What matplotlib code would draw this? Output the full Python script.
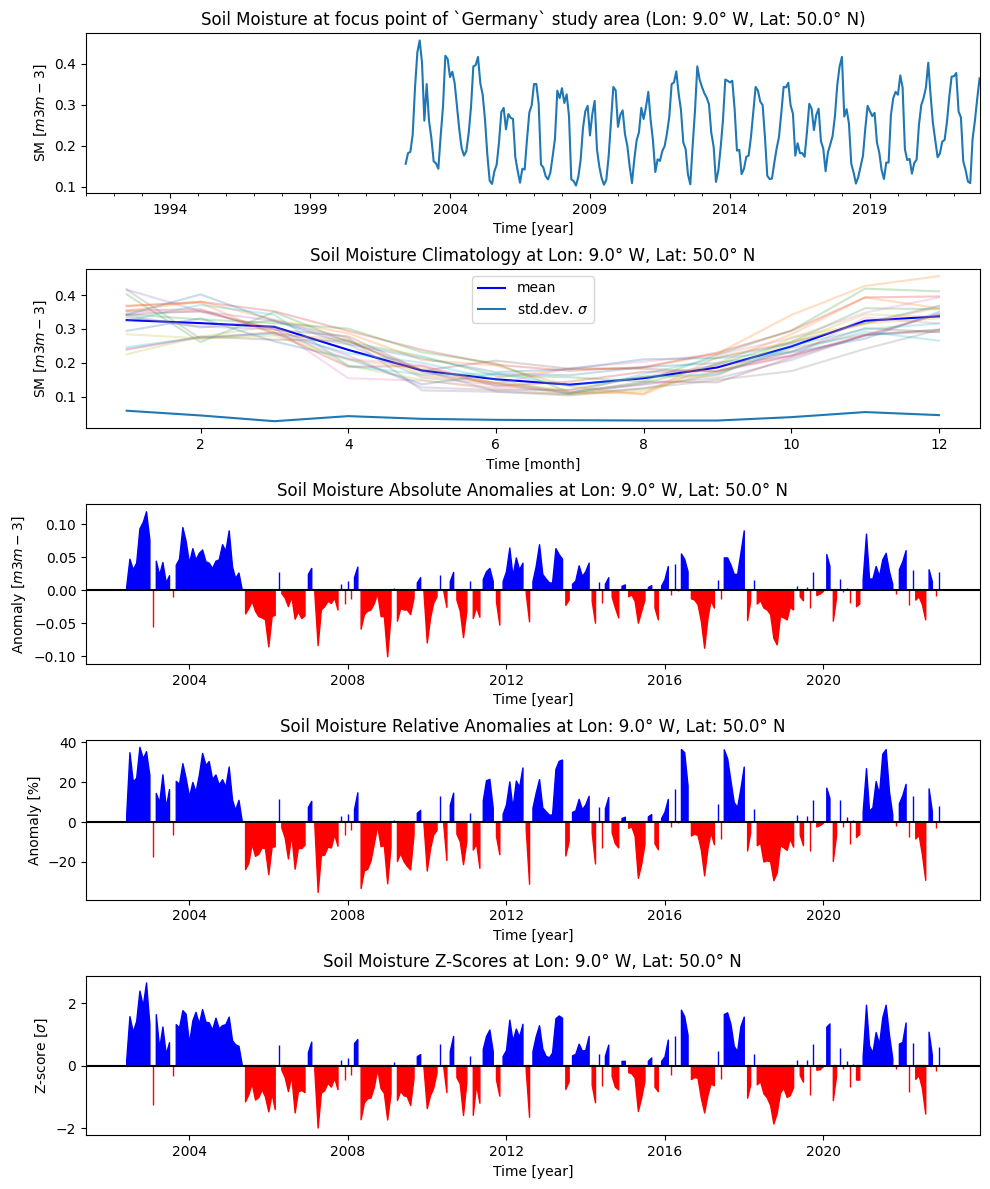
import numpy as np
import pandas as pd
import matplotlib.pyplot as plt

# monthly absolute soil moisture anomalies [m3/m3], 2002-06 ... 2022-12
abs_anomaly = np.array([
    0.005, 0.047, 0.031, 0.041, 0.093, 0.103, 0.119,                                # 2002 (Jun-Dec)
    0.076, -0.056, 0.044, 0.023, 0.042, 0.011, 0.022, -0.010, 0.038, 0.047, 0.095, 0.074,  # 2003
    0.041, 0.063, 0.046, 0.056, 0.061, 0.043, 0.041, 0.033, 0.044, 0.046, 0.069, 0.059,   # 2004
    0.090, 0.035, 0.018, 0.026, 0.001, -0.036, -0.028, -0.017, -0.032, -0.040, -0.042, -0.045,  # 2005
    -0.086, -0.040, -0.038, 0.027, -0.005, -0.012, -0.025, -0.010, -0.044, -0.033, -0.043, -0.039,  # 2006
    0.024, 0.033, -0.004, -0.084, -0.030, -0.025, -0.017, -0.020, -0.012, -0.030, 0.010, -0.021,  # 2007
    0.014, -0.013, 0.019, 0.035, -0.059, -0.037, -0.032, -0.030, -0.020, -0.005, -0.040, -0.040,  # 2008
    -0.101, -0.040, 0.003, -0.047, -0.028, -0.030, -0.030, -0.037, -0.012, 0.011, 0.019, -0.002,  # 2009
    -0.080, -0.042, -0.020, -0.010, 0.023, -0.001, -0.026, 0.013, 0.027, -0.015, -0.032, -0.072,  # 2010
    -0.032, 0.014, -0.043, -0.026, -0.041, 0.016, 0.028, 0.033, 0.013, -0.018, -0.053, 0.013,  # 2011
    0.028, 0.064, 0.021, 0.049, 0.031, 0.041, -0.005, -0.048, 0.013, 0.036, 0.069, 0.024,  # 2012
    0.017, 0.011, 0.011, 0.063, 0.054, 0.047, -0.023, -0.015, 0.009, 0.014, 0.037, 0.021,  # 2013
    0.028, 0.041, -0.017, -0.050, 0.013, -0.020, 0.009, 0.019, -0.010, -0.027, -0.042, 0.006,  # 2014
    0.008, -0.010, -0.007, -0.017, -0.050, -0.032, -0.015, 0.004, 0.007, -0.027, -0.045, 0.006,  # 2015
    0.016, 0.036, -0.008, 0.040, -0.001, 0.055, 0.047, 0.028, -0.013, -0.015, -0.022, -0.047,  # 2016
    -0.088, -0.042, -0.016, -0.027, 0.016, -0.013, 0.049, 0.049, 0.038, 0.024, 0.024, 0.056,  # 2017
    0.090, -0.046, -0.017, 0.016, -0.021, -0.016, -0.027, -0.030, -0.037, -0.073, -0.083, -0.040,  # 2018
    -0.042, -0.045, -0.026, -0.030, 0.006, -0.010, -0.016, 0.005, -0.027, 0.027, -0.008, -0.006,  # 2019
    -0.002, 0.054, 0.036, -0.047, -0.012, 0.017, -0.003, 0.004, -0.020, 0.002, -0.025, -0.021,  # 2020
    0.016, 0.085, 0.017, 0.017, 0.036, 0.021, 0.046, 0.056, 0.028, 0.009, -0.006, 0.031,  # 2021
    0.043, 0.060, -0.023, 0.031, -0.015, -0.010, -0.022, -0.045, 0.031, 0.013, -0.009, 0.027,  # 2022
])

# climatology per calendar month (Jan..Dec)
clim_mean = np.array([0.326, 0.317, 0.306, 0.238, 0.177, 0.151, 0.135, 0.154, 0.186, 0.248, 0.324, 0.337])
clim_std = np.array([0.058, 0.044, 0.027, 0.042, 0.034, 0.031, 0.030, 0.029, 0.029, 0.039, 0.054, 0.045])

first_month = '2002-06'
last_month = '2022-12'
axis_start = '1991-01'
loc_txt = 'Lon: 9.0° W, Lat: 50.0° N'

dates = pd.date_range(first_month, last_month, freq='MS')
mi = dates.month.to_numpy() - 1
sm = abs_anomaly + clim_mean[mi]
rel_anomaly = abs_anomaly / clim_mean[mi] * 100
zscore = abs_anomaly / clim_std[mi]

sm_series = pd.Series(np.nan, index=pd.period_range(axis_start, last_month, freq='M'))
sm_series.iloc[-len(sm):] = sm

fig, axs = plt.subplots(5, 1, figsize=(9.9, 11.89))

ax = axs[0]
sm_series.plot(ax=ax)
ax.set_title('Soil Moisture at focus point of `Germany` study area (' + loc_txt + ')')
ax.set_xlabel('Time [year]')
ax.set_ylabel('SM [$m3m-3$]')

ax = axs[1]
months = np.arange(1, 13)
ax.plot(months, clim_mean, color='blue', label='mean')
ax.plot(months, clim_std, label=r'std.dev. $\sigma$')
for yr in range(dates.year.min(), dates.year.max() + 1):
    sel = dates.year == yr
    ax.plot(dates.month[sel], sm[sel], alpha=0.25)
ax.legend(loc='upper center')
ax.set_title('Soil Moisture Climatology at ' + loc_txt)
ax.set_xlabel('Time [month]')
ax.set_ylabel('SM [$m3m-3$]')


def anomaly_plot(ax, values, title, ylabel):
    x = dates.to_numpy()
    ax.fill_between(x, 0, values, where=values > 0, color='blue')
    ax.fill_between(x, 0, values, where=values < 0, color='red')
    ax.axhline(0, color='black')
    ax.set_title(title)
    ax.set_xlabel('Time [year]')
    ax.set_ylabel(ylabel)


anomaly_plot(axs[2], abs_anomaly, 'Soil Moisture Absolute Anomalies at ' + loc_txt, 'Anomaly [$m3m-3$]')
anomaly_plot(axs[3], rel_anomaly, 'Soil Moisture Relative Anomalies at ' + loc_txt, 'Anomaly [%]')
anomaly_plot(axs[4], zscore, 'Soil Moisture Z-Scores at ' + loc_txt, r'Z-score [$\sigma$]')

plt.tight_layout(pad=0.75)
plt.savefig('out.png', dpi=100)
